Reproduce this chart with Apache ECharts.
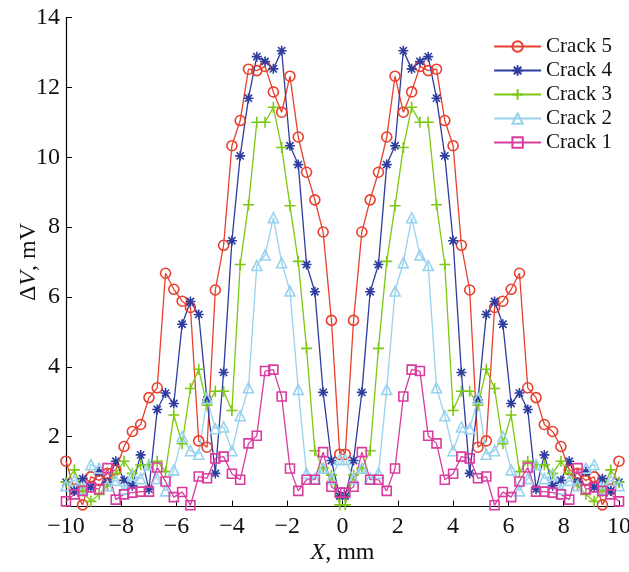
<!DOCTYPE html>
<html>
<head>
<meta charset="utf-8">
<script src="https://cdn.jsdelivr.net/npm/echarts@6/dist/echarts.min.js"></script>
<style>
  html, body { margin: 0; padding: 0; background: #ffffff; }
  #chart { width: 629px; height: 572px; }
</style>
</head>
<body>
<div id="chart"></div>
<script>
// Probe positions along the scan line, mm
const positions = [
  -10.0, -9.7, -9.4, -9.1, -8.8, -8.5, -8.2, -7.9, -7.6, -7.3, -7.0, -6.7, -6.4, -6.1, -5.8, -5.5, -5.2,
  -4.9, -4.6, -4.3, -4.0, -3.7, -3.4, -3.1, -2.8, -2.5, -2.2, -1.9, -1.6, -1.3, -1.0, -0.7, -0.4, -0.1,
  0.1, 0.4, 0.7, 1.0, 1.3, 1.6, 1.9, 2.2, 2.5, 2.8, 3.1, 3.4, 3.7, 4.0, 4.3, 4.6, 4.9,
  5.2, 5.5, 5.8, 6.1, 6.4, 6.7, 7.0, 7.3, 7.6, 7.9, 8.2, 8.5, 8.8, 9.1, 9.4, 9.7, 10.0
];

// Signal change ΔV (mV) for each crack
const crack5 = [
  1.3, 0.5, 0.05, 0.85, 0.75, 0.95, 1.05, 1.72, 2.15, 2.35, 3.12, 3.4, 6.68, 6.22, 5.88, 5.7, 1.88,
  1.7, 6.2, 7.48, 10.33, 11.05, 12.52, 12.48, 12.6, 11.87, 11.29, 12.32, 10.58, 9.57, 8.78, 7.86, 5.33, 1.5,
  1.5, 5.33, 7.86, 8.78, 9.57, 10.58, 12.32, 11.29, 11.87, 12.6, 12.48, 12.52, 11.05, 10.33, 7.48, 6.2, 1.7,
  1.88, 5.7, 5.88, 6.22, 6.68, 3.4, 3.12, 2.35, 2.15, 1.72, 1.05, 0.95, 0.75, 0.85, 0.05, 0.5, 1.3
];
const crack4 = [
  0.7, 0.45, 0.8, 0.55, 1.0, 0.7, 1.3, 0.75, 0.6, 1.48, 0.5, 2.78, 3.25, 2.95, 5.22, 5.87, 5.5,
  3.05, 0.95, 3.84, 7.61, 10.04, 11.69, 12.88, 12.74, 12.53, 13.05, 10.33, 9.79, 6.93, 6.15, 3.27, 1.32, 0.3,
  0.3, 1.32, 3.27, 6.15, 6.93, 9.79, 10.33, 13.05, 12.53, 12.74, 12.88, 11.69, 10.04, 7.61, 3.84, 0.95, 3.05,
  5.5, 5.87, 5.22, 2.95, 3.25, 2.78, 0.5, 1.48, 0.6, 0.75, 1.3, 0.7, 1.0, 0.55, 0.8, 0.45, 0.7
];
const crack3 = [
  0.7, 1.05, 0.45, 0.15, 0.35, 0.6, 0.95, 1.3, 0.95, 1.2, 1.2, 1.3, 1.0, 2.62, 1.8, 3.38, 3.93,
  2.9, 3.3, 3.3, 2.75, 6.93, 8.64, 11.0, 11.0, 11.43, 10.28, 8.61, 7.02, 4.53, 1.6, 1.1, 0.9, 0.05,
  0.05, 0.9, 1.1, 1.6, 4.53, 7.02, 8.61, 10.28, 11.43, 11.0, 11.0, 8.64, 6.93, 2.75, 3.3, 3.3, 2.9,
  3.93, 3.38, 1.8, 2.62, 1.0, 1.3, 1.2, 1.2, 0.95, 1.3, 0.95, 0.6, 0.35, 0.15, 0.45, 1.05, 0.7
];
const crack2 = [
  0.6, 0.75, 0.5, 1.2, 1.1, 0.6, 0.75, 0.5, 0.9, 0.8, 1.2, 0.8, 0.45, 1.05, 2.0, 1.6, 1.5,
  3.1, 2.23, 2.28, 1.6, 2.6, 3.4, 6.9, 7.2, 8.27, 6.98, 6.17, 3.35, 0.95, 0.8, 1.1, 0.8, 1.35,
  1.35, 0.8, 1.1, 0.8, 0.95, 3.35, 6.17, 6.98, 8.27, 7.2, 6.9, 3.4, 2.6, 1.6, 2.28, 2.23, 3.1,
  1.5, 1.6, 2.0, 1.05, 0.45, 0.8, 1.2, 0.8, 0.9, 0.5, 0.75, 0.6, 1.1, 1.2, 0.5, 0.75, 0.6
];
const crack1 = [
  0.15, 0.35, 0.45, 0.55, 0.5, 1.1, 0.2, 0.35, 0.4, 0.43, 0.43, 1.12, 0.72, 0.27, 0.42, 0.04, 0.86,
  0.81, 1.38, 1.43, 0.94, 0.77, 1.81, 2.03, 3.88, 3.92, 3.15, 1.09, 0.45, 0.77, 0.77, 1.56, 0.57, 0.4,
  0.4, 0.57, 1.56, 0.77, 0.77, 0.45, 1.09, 3.15, 3.92, 3.88, 2.03, 1.81, 0.77, 0.94, 1.43, 1.38, 0.81,
  0.86, 0.04, 0.42, 0.27, 0.72, 1.12, 0.43, 0.43, 0.4, 0.35, 0.2, 1.1, 0.5, 0.55, 0.45, 0.35, 0.15
];

const seriesNames = ['Crack 5', 'Crack 4', 'Crack 3', 'Crack 2', 'Crack 1'];
const seriesValues = [crack5, crack4, crack3, crack2, crack1];
const xTicks = [-10, -8, -6, -4, -2, 0, 2, 4, 6, 8, 10];
const yTicks = [0, 2, 4, 6, 8, 10, 12, 14];

// Marker look per crack: hollow outlines and stroked glyphs
const looks = [
  { color: '#e8402e', symbol: 'circle', size: 10 },
  { color: '#2d3c9e', symbol: 'path://M0,-5L0,5M-5,0L5,0M-3.6,-3.6L3.6,3.6M-3.6,3.6L3.6,-3.6', size: 10 },
  { color: '#7cc812', symbol: 'path://M0,-5L0,5M-5,0L5,0', size: 11 },
  { color: '#98d2ee', symbol: 'triangle', size: 10 },
  { color: '#d93c9f', symbol: 'rect', size: 9 }
];

const serif = 'Liberation Serif, Times New Roman, serif';
const fmtTick = v => (v < 0 ? '\u2212' + Math.abs(v) : String(v));
const nameRich = {
  i: { fontFamily: serif, fontSize: 24, fontStyle: 'italic', color: '#111' },
  n: { fontFamily: serif, fontSize: 24, color: '#111' }
};

const chart = echarts.init(document.getElementById('chart'), null, { renderer: 'canvas' });

chart.setOption({
  backgroundColor: '#ffffff',
  animation: false,
  grid: { left: 66, right: 10, top: 17.5, bottom: 65.4, containLabel: false, outerBoundsMode: 'none' },
  legend: {
    right: 12,
    top: 31,
    orient: 'vertical',
    itemWidth: 47,
    itemHeight: 13,
    itemGap: 3,
    textStyle: { fontFamily: serif, fontSize: 21, color: '#111' },
    data: seriesNames
  },
  xAxis: {
    type: 'value',
    position: 'bottom',
    min: xTicks[0],
    max: xTicks[xTicks.length - 1],
    interval: 2,
    name: '{i|X}{n|, mm}',
    nameLocation: 'middle',
    nameGap: 34,
    nameMoveOverlap: false,
    nameTextStyle: { rich: nameRich },
    axisLine: { show: true, onZero: false, lineStyle: { color: '#000', width: 1.2 } },
    axisTick: { show: true, inside: true, length: 6, lineStyle: { color: '#000', width: 1 } },
    axisLabel: { fontFamily: serif, fontSize: 24, color: '#111', margin: 8, formatter: fmtTick },
    splitLine: { show: false }
  },
  yAxis: {
    type: 'value',
    position: 'left',
    min: yTicks[0],
    max: yTicks[yTicks.length - 1],
    interval: 2,
    name: '{n|\u0394}{i|V}{n|, mV}',
    nameLocation: 'middle',
    nameGap: 25,
    nameRotate: 90,
    nameMoveOverlap: false,
    nameTextStyle: { rich: nameRich },
    axisLine: { show: true, onZero: false, lineStyle: { color: '#000', width: 1.2 } },
    axisTick: { show: true, inside: true, length: 6, lineStyle: { color: '#000', width: 1 } },
    axisLabel: { fontFamily: serif, fontSize: 24, color: '#111', margin: 6, showMinLabel: false, formatter: fmtTick },
    splitLine: { show: false }
  },
  series: seriesNames.map((name, k) => ({
    name: name,
    type: 'line',
    data: positions.map((x, i) => [x, seriesValues[k][i]]),
    symbol: looks[k].symbol,
    symbolSize: looks[k].size,
    showAllSymbol: true,
    clip: false,
    lineStyle: { color: looks[k].color, width: 1.3 },
    itemStyle: { color: 'rgba(255,255,255,0)', borderColor: looks[k].color, borderWidth: 1.6 },
    emphasis: { disabled: true }
  }))
});
</script>
</body>
</html>
